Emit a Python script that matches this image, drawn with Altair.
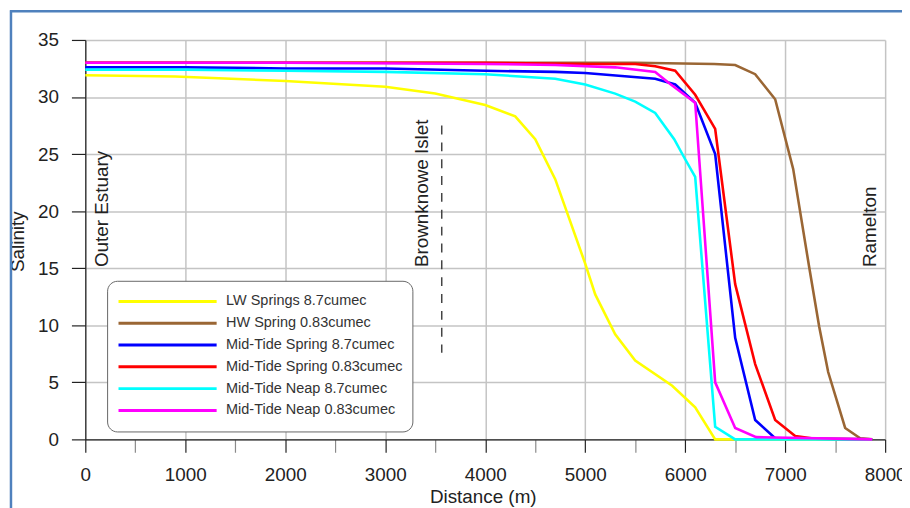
import altair as alt
import pandas as pd

FONT = "Liberation Sans"

series_names = [
    "LW Springs 8.7cumec",
    "HW Spring 0.83cumec",
    "Mid-Tide Spring 8.7cumec",
    "Mid-Tide Spring 0.83cumec",
    "Mid-Tide Neap 8.7cumec",
    "Mid-Tide Neap 0.83cumec",
]
series_colors = ["#ffff00", "#9a6634", "#0000ff", "#ff0000", "#00ffff", "#ff00ff"]

lw_spr87_x = [0, 900, 2000, 3000, 3500, 4000, 4300, 4500, 4700, 5000, 5100, 5300, 5500, 5870, 6100, 6300, 6500, 7870]
lw_spr87_y = [31.9, 31.8, 31.4, 30.9, 30.3, 29.3, 28.3, 26.3, 22.8, 15.4, 12.7, 9.2, 6.9, 4.7, 2.8, 0.0, 0.0, 0.0]

hw_spr083_x = [0, 2000, 4000, 5500, 6290, 6500, 6700, 6900, 7080, 7240, 7340, 7430, 7600, 7750, 7870]
hw_spr083_y = [33.0, 33.0, 33.0, 33.0, 32.9, 32.8, 32.0, 29.8, 23.7, 15.1, 9.9, 5.9, 1.0, 0.1, 0.0]

mt_spr87_x = [0, 1000, 2000, 3000, 4000, 4700, 5000, 5700, 5900, 6100, 6300, 6500, 6700, 6900, 7870]
mt_spr87_y = [32.6, 32.6, 32.5, 32.5, 32.3, 32.2, 32.1, 31.6, 31.1, 29.5, 25.0, 8.9, 1.7, 0.1, 0.0]

mt_spr083_x = [0, 2000, 4000, 5000, 5500, 5700, 5900, 6100, 6300, 6500, 6700, 6900, 7100, 7300, 7870]
mt_spr083_y = [33.0, 33.0, 33.0, 32.9, 32.9, 32.7, 32.3, 30.2, 27.2, 13.6, 6.6, 1.7, 0.3, 0.05, 0.0]

mt_neap87_x = [0, 1000, 2000, 3000, 4000, 4700, 5000, 5300, 5500, 5700, 5890, 5990, 6100, 6300, 6500, 7870]
mt_neap87_y = [32.4, 32.4, 32.3, 32.2, 32.0, 31.6, 31.1, 30.3, 29.6, 28.6, 26.3, 24.7, 23.0, 1.1, 0.0, 0.0]

mt_neap083_x = [0, 2000, 4000, 4700, 5300, 5700, 5840, 6100, 6300, 6500, 6710, 7870]
mt_neap083_y = [33.0, 33.0, 32.9, 32.8, 32.6, 32.2, 31.2, 29.5, 5.0, 1.0, 0.2, 0.0]

all_x = [lw_spr87_x, hw_spr083_x, mt_spr87_x, mt_spr083_x, mt_neap87_x, mt_neap083_x]
all_y = [lw_spr87_y, hw_spr083_y, mt_spr87_y, mt_spr083_y, mt_neap87_y, mt_neap083_y]

annot_labels = ["Outer Estuary", "Brownknowe Islet", "Ramelton"]
annot_x = [165, 3370, 7850]
annot_y = [15.1, 15.1, 15.1]

islet_x = [3565]
islet_y_top = [27.5]
islet_y_bottom = [7.6]

x_ticks = list(range(0, 8001, 500))
y_ticks = [i * 2.5 for i in range(15)]

rows = []
for order, (name, xs, ys) in enumerate(zip(series_names, all_x, all_y)):
    for xv, yv in zip(xs, ys):
        rows.append({"series": name, "x": xv, "y": yv, "ord": order})
df = pd.DataFrame(rows)

annot_df = pd.DataFrame({"label": annot_labels, "x": annot_x, "y": annot_y})
islet_df = pd.DataFrame({"x": islet_x, "y": islet_y_top, "y2": islet_y_bottom})

x_scale = alt.Scale(domain=[0, 8000], nice=False, zero=False)
y_scale = alt.Scale(domain=[0, 35], nice=False)

x_axis = alt.Axis(
    values=x_ticks,
    format="d",
    labelExpr="datum.value % 1000 === 0 ? datum.label : ''",
    labelFlush=False,
    labelOverlap=False,
    title="Distance (m)",
    titleFontSize=19,
    titleFontWeight="normal",
    titleColor="#222",
    titleY=64,
    titleX=401,
    titleBaseline="alphabetic",
    labelFontSize=19,
    labelColor="#222",
    labelPadding=13,
    tickSize=13,
    tickColor={"condition": {"test": "datum.value % 1000 !== 0", "value": "#8a8a8a"}, "value": "#222"},
    gridOpacity={"condition": {"test": "datum.value % 1000 !== 0", "value": 0}, "value": 1},
    domainColor="#222",
)
y_axis = alt.Axis(
    values=y_ticks,
    labelExpr="datum.value % 5 === 0 ? datum.label : ''",
    labelFlush=False,
    labelOverlap=False,
    title="Salinity",
    titleFontSize=19,
    titleFontWeight="normal",
    titleColor="#222",
    titleX=-68,
    titleY=203,
    titleAngle=270,
    titleAlign="center",
    titleBaseline="middle",
    labelFontSize=19,
    labelColor="#222",
    labelPadding=13,
    tickSize=14,
    tickColor={"condition": {"test": "datum.value % 5 !== 0", "value": "#8a8a8a"}, "value": "#222"},
    gridOpacity={"condition": {"test": "datum.value % 5 !== 0", "value": 0}, "value": 1},
    domainColor="#222",
)

lines = alt.Chart(df).mark_line(strokeWidth=2.6).encode(
    x=alt.X("x:Q", scale=x_scale, axis=x_axis),
    y=alt.Y("y:Q", scale=y_scale, axis=y_axis),
    color=alt.Color(
        "series:N",
        scale=alt.Scale(domain=series_names, range=series_colors),
        sort=series_names,
        legend=alt.Legend(
            title=None,
            orient="none",
            legendX=22,
            legendY=243,
            symbolType="stroke",
            symbolSize=9801,
            symbolStrokeWidth=3,
            labelFontSize=14.6,
            labelFont=FONT,
            labelColor="#333",
            labelOffset=8,
            labelLimit=0,
            clipHeight=21.6,
            rowPadding=0,
            padding=10,
            cornerRadius=10,
            strokeColor="#666",
            fillColor="white",
        ),
    ),
    order=alt.Order("ord:Q"),
    detail="series:N",
)

annots = alt.Chart(annot_df).mark_text(
    angle=270, align="left", baseline="middle", fontSize=19, font=FONT, color="#222"
).encode(x=alt.X("x:Q", scale=x_scale), y=alt.Y("y:Q", scale=y_scale), text="label:N")

islet = alt.Chart(islet_df).mark_rule(
    color="#444", strokeWidth=1.5, strokeDash=[9, 8]
).encode(x=alt.X("x:Q", scale=x_scale), y=alt.Y("y:Q", scale=y_scale), y2="y2:Q")

frame_df = pd.DataFrame({"a": [0]})
frame_left = alt.Chart(frame_df).mark_rule(color="#4f81bd", strokeWidth=2.5).encode(
    x=alt.value(-75), y=alt.value(-30), y2=alt.value(480)
)
frame_top = alt.Chart(frame_df).mark_rule(color="#4f81bd", strokeWidth=2.5).encode(
    x=alt.value(-76), x2=alt.value(830), y=alt.value(-29)
)

chart = (
    alt.layer(islet, lines, annots, frame_left, frame_top)
    .properties(
        width=807,
        height=403,
        autosize=alt.AutoSizeParams(type="none"),
        padding={"left": 78, "top": 30, "right": 17, "bottom": 68},
    )
    .configure(font=FONT)
    .configure_view(stroke=None)
    .configure_axis(gridColor="#c4c4c4", gridWidth=1.5, domainWidth=1.2, tickWidth=1.2, labelFont=FONT, titleFont=FONT)
)

chart.save("out.html", embed_options={"renderer": "svg", "actions": False})
